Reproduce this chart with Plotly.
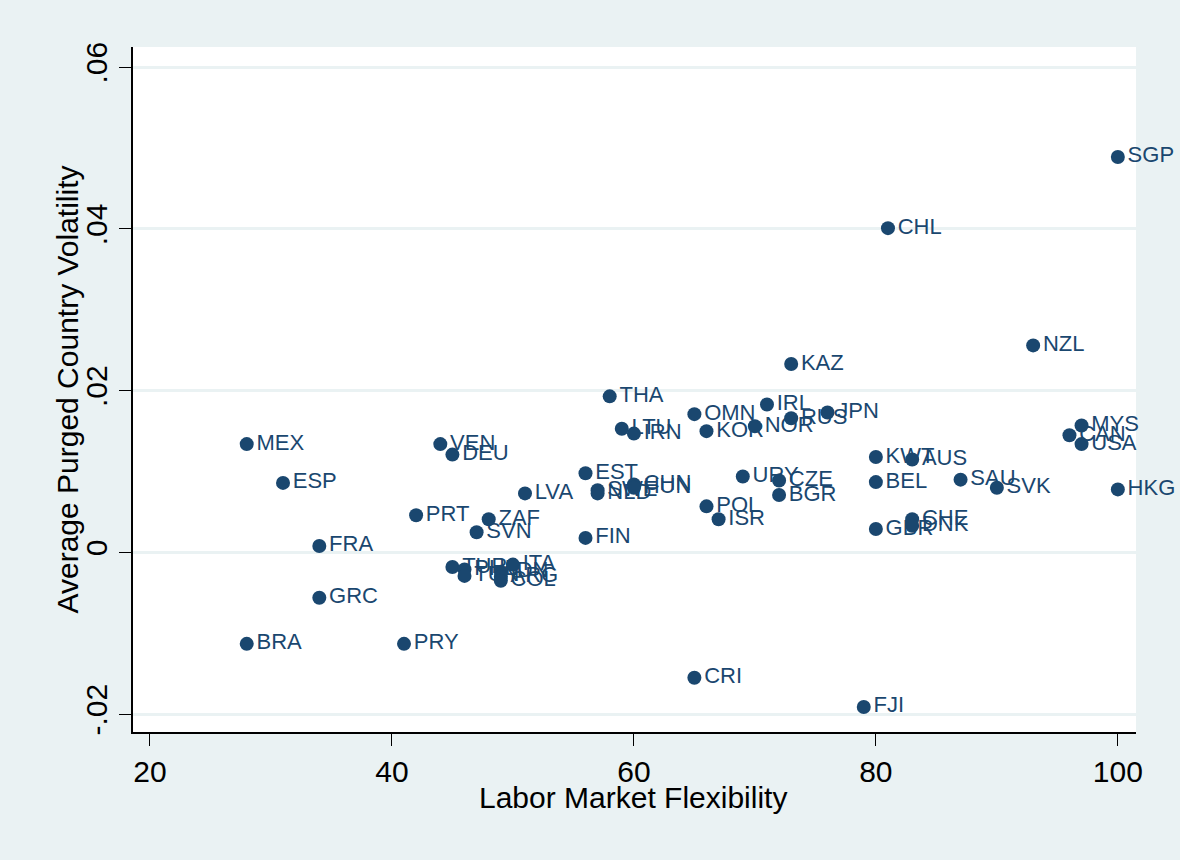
import plotly.graph_objects as go

countries = ["SGP", "CHL", "NZL", "KAZ", "THA", "IRL", "OMN", "RUS", "JPN", "NOR",
             "KOR", "LTU", "IRN", "MEX", "VEN", "DEU", "EST", "URY", "CZE", "BGR",
             "POL", "ISR", "LVA", "PRT", "ZAF", "SVN", "FIN", "ESP", "FRA", "GRC",
             "BRA", "PRY", "CRI", "FJI", "KWT", "AUS", "BEL", "SAU", "SVK", "HKG",
             "MYS", "CAN", "USA", "CHE", "DNK", "GBR", "TUR", "PHL", "TUN", "IDN",
             "ARG", "COL", "ITA", "SWE", "NLD", "CHN", "HUN"]
flexibility = [100, 81, 93, 73, 58, 71, 65, 73, 76, 70,
               66, 59, 60, 28, 44, 45, 56, 69, 72, 72,
               66, 67, 51, 42, 48, 47, 56, 31, 34, 34,
               28, 41, 65, 79, 80, 83, 80, 87, 90, 100,
               97, 96, 97, 83, 83, 80, 45, 46, 46, 49,
               49, 49, 50, 57, 57, 60, 60]
volatility = [0.0489, 0.0401, 0.0256, 0.0233, 0.0193, 0.0183, 0.0171, 0.0166, 0.0173, 0.0156,
              0.0150, 0.0153, 0.0147, 0.0134, 0.0134, 0.0121, 0.0098, 0.0094, 0.0089, 0.0071,
              0.0057, 0.0041, 0.0073, 0.0046, 0.0041, 0.0025, 0.0018, 0.0086, 0.0008, -0.0056,
              -0.0113, -0.0113, -0.0155, -0.0191, 0.0118, 0.0115, 0.0087, 0.0090, 0.0080, 0.0078,
              0.0157, 0.0145, 0.0134, 0.0041, 0.0033, 0.0029, -0.0018, -0.0021, -0.0029, -0.0024,
              -0.0030, -0.0035, -0.0015, 0.0077, 0.0073, 0.0084, 0.0080]

y_ticks = [-0.02, 0, 0.02, 0.04, 0.06]
y_ticktext = ["-.02", "0", ".02", ".04", ".06"]
x_ticks = [20, 40, 60, 80, 100]
x_title = "Labor Market Flexibility"
y_title = "Average Purged Country Volatility"

navy = "#1a476f"
bg = "#eaf2f3"
font_family = "Liberation Sans, Arial, sans-serif"

fig = go.Figure()
fig.add_trace(go.Scatter(
    x=flexibility, y=volatility, text=countries,
    mode="markers+text", textposition="middle right",
    marker=dict(size=14, color=navy),
    textfont=dict(family=font_family, size=22, color=navy),
    cliponaxis=False, hoverinfo="x+y+text",
))

fig.update_layout(
    width=1180, height=860,
    paper_bgcolor=bg, plot_bgcolor="white",
    margin=dict(l=133, r=44, t=47, b=128),
    showlegend=False,
    font=dict(family=font_family, color="black"),
    xaxis=dict(
        range=[18.6, 101.5], tickvals=x_ticks,
        ticks="outside", ticklen=12, tickcolor="black", tickwidth=1,
        showgrid=False, zeroline=False,
        showline=True, linecolor="black", linewidth=1.5,
        tickfont=dict(size=30, family=font_family),
    ),
    yaxis=dict(
        range=[-0.0222, 0.0625], tickvals=y_ticks, ticktext=y_ticktext,
        ticks="outside", ticklen=12, tickcolor="black", tickwidth=1,
        tickangle=-90,
        showgrid=True, gridcolor=bg, gridwidth=3, zeroline=False,
        showline=True, linecolor="black", linewidth=1.5,
        tickfont=dict(size=30, family=font_family),
    ),
    annotations=[
        dict(text=x_title, xref="paper", yref="paper", x=0.5, y=0,
             xanchor="center", yanchor="middle", yshift=-65, xshift=-2,
             showarrow=False, font=dict(size=30, family=font_family, color="black")),
        dict(text=y_title, xref="paper", yref="paper", x=0, y=0.5,
             xanchor="center", yanchor="middle", xshift=-66, textangle=-90,
             showarrow=False, font=dict(size=30, family=font_family, color="black")),
    ],
)

fig.write_html("out.html", config={"displayModeBar": False},
               post_script="document.body.style.margin='0';")
